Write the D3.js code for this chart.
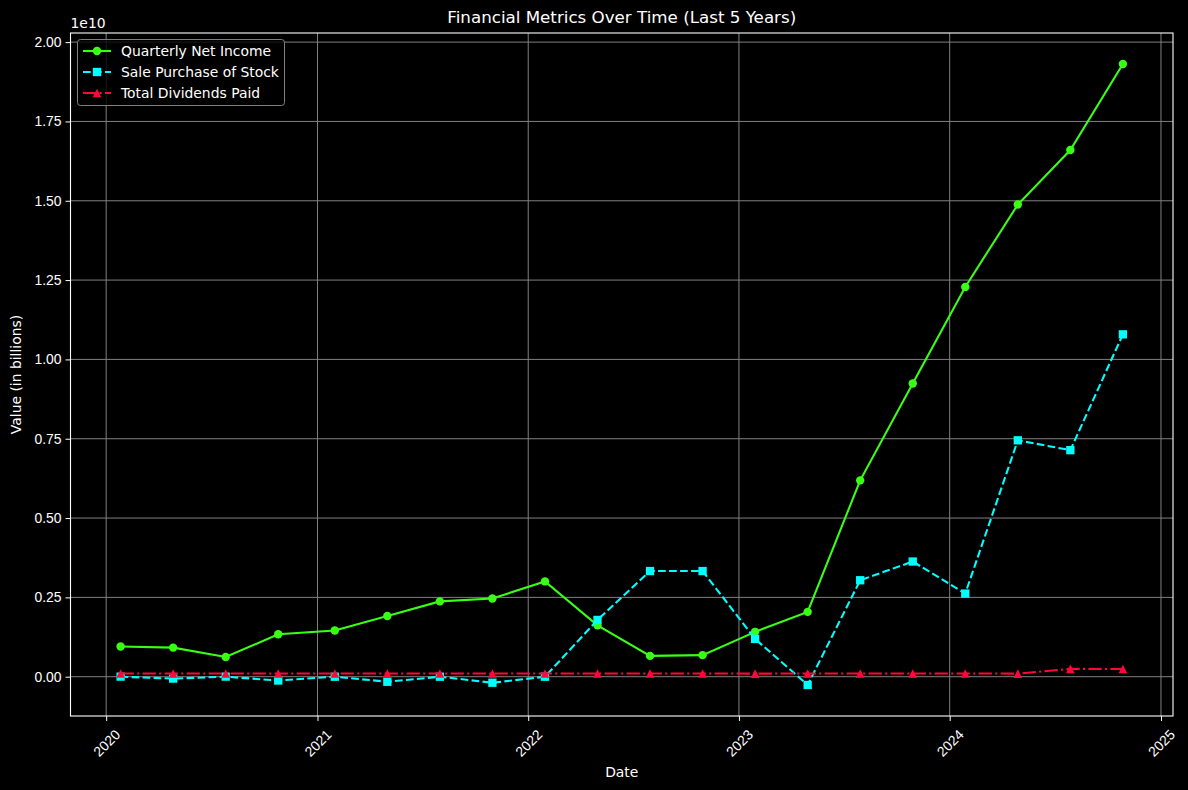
<!DOCTYPE html>
<html><head><meta charset="utf-8">
<script src="https://cdn.jsdelivr.net/npm/d3@7"></script>
<style>body{margin:0;background:#000;}svg{display:block;font-family:"DejaVu Sans",sans-serif;}</style>
</head><body>
<svg id="chart" width="1188" height="790"></svg>
<script>
const dates = ["2020-01-26","2020-04-26","2020-07-26","2020-10-25","2021-01-31","2021-05-02","2021-08-01","2021-10-31","2022-01-30","2022-05-01","2022-07-31","2022-10-30","2023-01-29","2023-04-30","2023-07-30","2023-10-29","2024-01-28","2024-04-28","2024-07-28","2024-10-27"];
const netIncome = [950e6,917e6,622e6,1336e6,1457e6,1912e6,2374e6,2464e6,3003e6,1618e6,656e6,680e6,1414e6,2043e6,6188e6,9243e6,12285e6,14881e6,16599e6,19309e6];
const stockSale = [0,-0.06e9,0,-0.12e9,0,-0.16e9,0,-0.19e9,0,1.79e9,3.33e9,3.33e9,1.19e9,-0.26e9,3.04e9,3.63e9,2.62e9,7.45e9,7.14e9,10.79e9];
const dividends = [99e6,99e6,99e6,99e6,99e6,100e6,100e6,100e6,100e6,100e6,100e6,99e6,98e6,99e6,99e6,99e6,99e6,98e6,246e6,245e6];
const yTicks = [0,0.25e10,0.5e10,0.75e10,1.0e10,1.25e10,1.5e10,1.75e10,2.0e10];
const xTickYears = [2020,2021,2022,2023,2024,2025];
const seriesNames = ["Quarterly Net Income","Sale Purchase of Stock","Total Dividends Paid"];

const svg = d3.select("#chart");
const L=70.5, R=1173, T=33, B=716;
const parse = d3.timeParse("%Y-%m-%d");
const dts = dates.map(parse);

const xMin = d3.min(dts), xMax = d3.max(dts);
const span = xMax - xMin;
const x = d3.scaleTime().domain([new Date(+xMin - span*0.05), new Date(+xMax + span*0.05)]).range([L,R]);
const allV = netIncome.concat(stockSale, dividends);
const vMin = d3.min(allV), vMax = d3.max(allV), vs = vMax - vMin;
const y = d3.scaleLinear().domain([vMin - vs*0.05, vMax + vs*0.05]).range([B,T]);

svg.append("rect").attr("width",1188).attr("height",790).attr("fill","#000");

// grid
const xTicks = xTickYears.map(yr=>new Date(yr,0,1));
const grid = svg.append("g");
grid.selectAll("line.gx").data(xTicks).join("line")
  .attr("x1",d=>x(d)).attr("x2",d=>x(d)).attr("y1",T).attr("y2",B)
  .attr("stroke","#808080").attr("stroke-width",1);
grid.selectAll("line.gy").data(yTicks).join("line")
  .attr("x1",L).attr("x2",R).attr("y1",d=>y(d)).attr("y2",d=>y(d))
  .attr("stroke","#808080").attr("stroke-width",1);

// axes
const xAxis = svg.append("g").attr("transform",`translate(0,${B})`)
  .call(d3.axisBottom(x).tickValues(xTicks).tickFormat(d3.timeFormat("%Y")).tickSizeOuter(0).tickSize(5).tickPadding(4));
xAxis.select(".domain").remove();
xAxis.selectAll("line").attr("stroke","#fff");
xAxis.selectAll("text").attr("fill","#fff").attr("font-size","13.9px")
  .attr("text-anchor","middle").attr("dy",null).attr("dominant-baseline","central")
  .attr("transform","translate(0,27) rotate(-45)").attr("y",0).attr("x",0);

const yAxis = svg.append("g").attr("transform",`translate(${L},0)`)
  .call(d3.axisLeft(y).tickValues(yTicks).tickFormat(d=>(d/1e10).toFixed(2)).tickSizeOuter(0).tickSize(5).tickPadding(4));
yAxis.select(".domain").remove();
yAxis.selectAll("line").attr("stroke","#fff");
yAxis.selectAll("text").attr("fill","#fff").attr("font-size","13.9px");

// frame
svg.append("rect").attr("x",L).attr("y",T).attr("width",R-L).attr("height",B-T)
  .attr("fill","none").attr("stroke","#fff").attr("stroke-width",1.1);

// series
const clip = svg.append("clipPath").attr("id","clip").append("rect").attr("x",L).attr("y",T).attr("width",R-L).attr("height",B-T);
const colors = ["#39FF14","#00FFFF","#FF073A"];
const dashes = [null,"7.7,3.3","13.3,3.3,2.1,3.3"];
const values = [netIncome, stockSale, dividends];
const symbols = [d3.symbolCircle, d3.symbolSquare, d3.symbolTriangle];
const symSize = [Math.PI*4.2*4.2, 8.3*8.3, 42];
const plot = svg.append("g").attr("clip-path","url(#clip)");
const line = d3.line().x(d=>x(d[0])).y(d=>y(d[1]));
function triPath(s){ const h=s/2; return `M0,${-h}L${h},${h}L${-h},${h}Z`; }
values.forEach((vals,i)=>{
  const data = dts.map((d,j)=>[d,vals[j]]);
  plot.append("path").datum(data).attr("d",line).attr("fill","none")
    .attr("stroke",colors[i]).attr("stroke-width",2.08)
    .attr("stroke-dasharray",dashes[i]);
  plot.selectAll(null).data(data).join("path")
    .attr("transform",d=>`translate(${x(d[0])},${y(d[1])})`)
    .attr("d", i===2 ? triPath(8.6) : d3.symbol().type(symbols[i]).size(symSize[i])())
    .attr("fill",colors[i]);
});

// texts
svg.append("text").attr("x",(L+R)/2).attr("y",23).attr("text-anchor","middle")
  .attr("fill","#fff").attr("font-size","16.7px").text("Financial Metrics Over Time (Last 5 Years)");
svg.append("text").attr("x",L).attr("y",28).attr("fill","#fff").attr("font-size","13.9px").text("1e10");
svg.append("text").attr("x",(L+R)/2).attr("y",777).attr("text-anchor","middle")
  .attr("fill","#fff").attr("font-size","13.9px").text("Date");
svg.append("text").attr("transform",`translate(21,${(T+B)/2}) rotate(-90)`).attr("text-anchor","middle")
  .attr("fill","#fff").attr("font-size","13.9px").text("Value (in billions)");

// legend
const lg = svg.append("g");
lg.append("rect").attr("x",77.5).attr("y",39.5).attr("width",207).attr("height",66).attr("rx",3)
  .attr("fill","#000").attr("fill-opacity",0.8).attr("stroke","#808080").attr("stroke-width",1);
seriesNames.forEach((n,i)=>{
  const yy = 51 + i*21;
  lg.append("line").attr("x1",83).attr("x2",111).attr("y1",yy).attr("y2",yy)
    .attr("stroke",colors[i]).attr("stroke-width",2.08).attr("stroke-dasharray",dashes[i]);
  lg.append("path").attr("transform",`translate(97,${yy})`)
    .attr("d", i===2 ? triPath(8.6) : d3.symbol().type(symbols[i]).size(symSize[i])())
    .attr("fill",colors[i]);
  lg.append("text").attr("x",121).attr("y",yy).attr("dy","0.35em").attr("fill","#fff")
    .attr("font-size","13.9px").text(n);
});
</script>
</body></html>
